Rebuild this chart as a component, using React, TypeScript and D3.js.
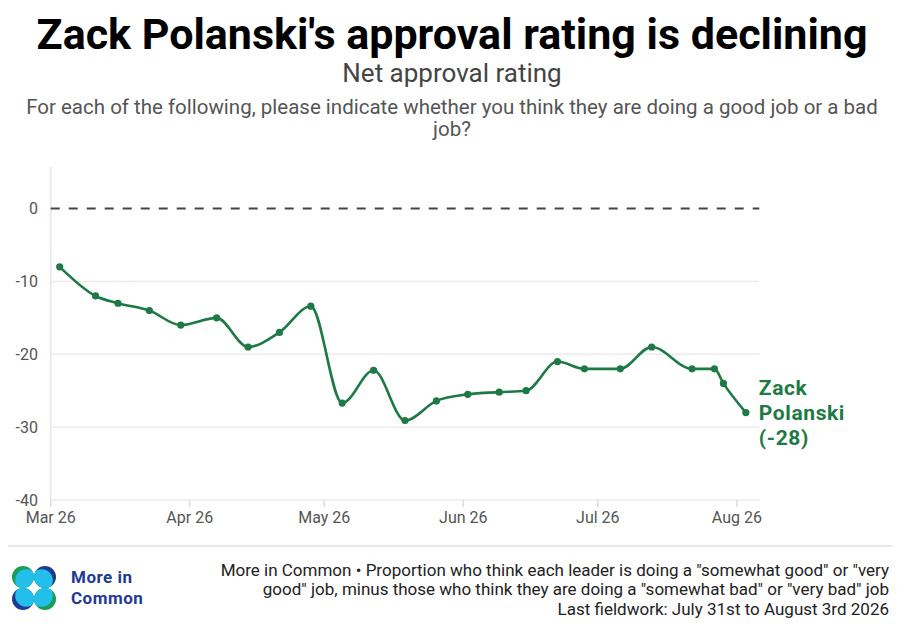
import React from 'react';
import * as d3 from 'd3';

// poll fieldwork dates and net approval (good minus bad)
const pollDates = [
  '2026-03-03', '2026-03-11', '2026-03-16', '2026-03-23', '2026-03-30',
  '2026-04-07', '2026-04-14', '2026-04-21', '2026-04-28', '2026-05-05',
  '2026-05-12', '2026-05-19', '2026-05-26', '2026-06-02', '2026-06-09',
  '2026-06-15', '2026-06-22', '2026-06-28', '2026-07-06', '2026-07-13',
  '2026-07-22', '2026-07-27', '2026-07-29', '2026-08-03'
];
const netApproval = [
  -8, -12, -13, -14, -16,
  -15, -19, -17, -13.4, -26.7,
  -22.2, -29.1, -26.4, -25.5, -25.2,
  -25, -21, -22, -22, -19,
  -22, -22, -24, -28
];
const yTicks = [0, -10, -20, -30, -40];
const monthTicks = ['2026-03-01', '2026-04-01', '2026-05-01', '2026-06-01', '2026-07-01', '2026-08-01'];
const labelLines = ['Zack', 'Polanski', '(-28)'];
const logoLines = ['More in', 'Common'];
const footerLines = [
  'More in Common \u2022 Proportion who think each leader is doing a "somewhat good" or "very',
  'good" job, minus those who think they are doing a "somewhat bad" or "very bad" job',
  'Last fieldwork: July 31st to August 3rd 2026'
];

const W = 904;
const H = 634;
const GREEN = '#1e7a45';
const NAVY = '#1f3a93';
const FONT = 'Roboto, "Noto Sans", sans-serif';

const parse = d3.utcParse('%Y-%m-%d');

const App: React.FC = () => {
  const points = pollDates.map((d, i) => ({ date: parse(d)!, value: netApproval[i] }));

  const x = d3.scaleUtc()
    .domain([parse('2026-03-01')!, parse('2026-08-06')!])
    .range([50.7, 759.3]);

  const y = d3.scaleLinear()
    .domain([-40, 5.7])
    .range([500, 167]);

  const line = d3.line<{ date: Date; value: number }>()
    .x(d => x(d.date))
    .y(d => y(d.value))
    .curve(d3.curveMonotoneX);

  const fmt = d3.utcFormat('%b %y');
  const last = points[points.length - 1];
  const [x0, x1] = x.range();

  // logo: four tangent circles round a centre point
  const logoC = { x: 34, y: 588 };
  const r = 11;
  const quads = [
    { dx: -1, dy: -1, color: '#1a9e55' },
    { dx: 1, dy: -1, color: NAVY },
    { dx: -1, dy: 1, color: NAVY },
    { dx: 1, dy: 1, color: '#1a9e55' }
  ];

  return (
    <svg width={W} height={H} style={{ position: 'absolute', left: 0, top: 0, background: '#fff' }}
      fontFamily={FONT}>
      <defs>
        {quads.map((q, i) => (
          <clipPath id={`logo-q${i}`} key={i}>
            <circle cx={logoC.x + q.dx * r} cy={logoC.y + q.dy * r} r={r} />
          </clipPath>
        ))}
      </defs>

      {/* titles */}
      <text x={452} y={49} textAnchor="middle" fontSize={43} fontWeight={700} fill="#000">
        Zack Polanski's approval rating is declining
      </text>
      <text x={452} y={82} textAnchor="middle" fontSize={26} fill="#444">
        Net approval rating
      </text>
      <text x={452} y={114} textAnchor="middle" fontSize={20.5} fill="#555">
        For each of the following, please indicate whether you think they are doing a good job or a bad
      </text>
      <text x={452} y={136} textAnchor="middle" fontSize={20.5} fill="#555">
        job?
      </text>

      {/* grid */}
      {yTicks.filter(t => t !== 0).map(t => (
        <line key={t} x1={x0} x2={x1} y1={y(t)} y2={y(t)} stroke="#ececec" strokeWidth={1.5} />
      ))}
      <line x1={x0} x2={x0} y1={y.range()[1]} y2={y(-40)} stroke="#e6e6e6" strokeWidth={1.5} />
      <line x1={x0} x2={x1} y1={y(0)} y2={y(0)} stroke="#444" strokeWidth={2} strokeDasharray="9,9" />

      {/* y labels */}
      {yTicks.map(t => (
        <text key={t} x={38} y={y(t)} dy="0.35em" textAnchor="end" fontSize={16} fill="#555">
          {t}
        </text>
      ))}

      {/* x ticks */}
      {monthTicks.map(m => {
        const d = parse(m)!;
        return (
          <g key={m} transform={`translate(${x(d)},0)`}>
            <line y1={y(-40)} y2={y(-40) + 7} stroke="#dcdcdc" strokeWidth={1.5} />
            <text y={523} textAnchor="middle" fontSize={16} fill="#555">{fmt(d)}</text>
          </g>
        );
      })}

      {/* series */}
      <path d={line(points) ?? ''} fill="none" stroke={GREEN} strokeWidth={2.6} />
      {points.map((p, i) => (
        <circle key={i} cx={x(p.date)} cy={y(p.value)} r={3.6} fill={GREEN} />
      ))}

      {/* end label */}
      {labelLines.map((t, i) => (
        <text key={t} x={x(last.date) + 13} y={395 + i * 25} fontSize={21} fontWeight={700}
          letterSpacing={0.6} fill={GREEN}>
          {t}
        </text>
      ))}

      {/* footer */}
      <line x1={8} x2={892} y1={546} y2={546} stroke="#e0e0e0" strokeWidth={1.5} />
      {quads.map((q, i) => {
        const cx = logoC.x + q.dx * r;
        const cy = logoC.y + q.dy * r;
        return (
          <g key={i}>
            <circle cx={cx} cy={cy} r={r} fill={q.color} />
            <circle cx={cx - q.dx * 3.2} cy={cy - q.dy * 3.2} r={r} fill="#22bfea"
              clipPath={`url(#logo-q${i})`} />
          </g>
        );
      })}
      {logoLines.map((t, i) => (
        <text key={t} x={71} y={583 + i * 20.5} fontSize={17} fontWeight={700} letterSpacing={0.5}
          fill={NAVY}>{t}</text>
      ))}
      {footerLines.map((t, i) => (
        <text key={i} x={889} y={575.5 + i * 19.5} textAnchor="end" fontSize={17} fill="#222">
          {t}
        </text>
      ))}
    </svg>
  );
};

export default App;
